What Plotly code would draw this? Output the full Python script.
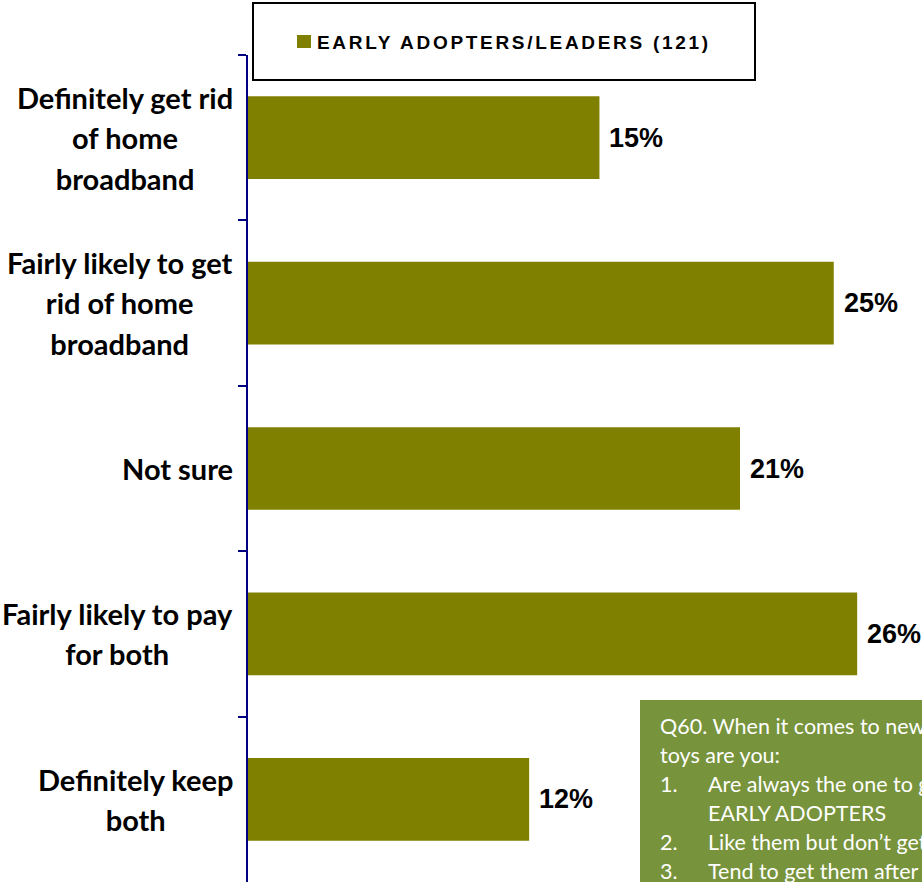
import plotly.graph_objects as go

# Survey answers for early adopters / leaders (n=121)
categories = [
    "Definitely get rid of home broadband",
    "Fairly likely to get rid of home broadband",
    "Not sure",
    "Fairly likely to pay for both",
    "Definitely keep both",
]
label_lines = [
    ["Definitely get rid", "of home", "broadband"],
    ["Fairly likely to get", "rid of home", "broadband"],
    ["Not sure"],
    ["Fairly likely to pay", "for both"],
    ["Definitely keep", "both"],
]
values = [15, 25, 21, 26, 12]
series_name = "EARLY ADOPTERS/LEADERS (121)"

note_header = ["Q60. When it comes to new gadgets and technology", "toys are you:"]
note_items = [
    ("1.", "Are always the one to get them first \u2013"),
    ("", "EARLY ADOPTERS"),
    ("2.", "Like them but don\u2019t get them first"),
    ("3.", "Tend to get them after others"),
]

W, H = 922, 882
ML, MR, MT, MB = 248, 0, 55, 0
PX_PER_UNIT = 23.43

BAR = "#808000"
AXIS = "#000080"
NOTE_BG = "#77933C"


def px_x(px):
    return (px - ML) / (W - ML - MR)


def px_y(py):
    return 1 - (py - MT) / (H - MT - MB)


fig = go.Figure(
    go.Bar(
        x=values,
        y=categories,
        orientation="h",
        width=0.5,
        marker=dict(color=BAR, line=dict(width=0)),
        name=series_name,
        showlegend=False,
        hoverinfo="x+y",
    )
)

annotations = []

# value labels at the end of each bar
for cat, v in zip(categories, values):
    annotations.append(dict(
        x=v, y=cat, xref="x", yref="y",
        text=f"{v}%", showarrow=False,
        xanchor="left", yanchor="middle", xshift=8,
        font=dict(family="Liberation Sans, Arial", size=27, color="black", weight="bold"),
    ))

# wrapped category labels, centred lines, right-aligned block
for cat, lines in zip(categories, label_lines):
    txt = "<br>".join(f"<span style='font-size:29px'>{ln}</span>" for ln in lines)
    annotations.append(dict(
        x=0, y=cat, xref="paper", yref="y",
        text=txt, showarrow=False, align="center",
        xanchor="right", yanchor="middle", xshift=-13,
        font=dict(family="Lato, Noto Sans", size=31, color="black", weight="bold"),
    ))

# legend text
annotations.append(dict(
    x=px_x(315), y=px_y(42), xref="paper", yref="paper",
    text=f"<span style='letter-spacing:2.7px'>{series_name}</span>",
    showarrow=False, xanchor="left", yanchor="middle",
    font=dict(family="Liberation Sans, Arial", size=19, color="black", weight="bold"),
))

# question note
note_font = dict(family="Lato, Noto Sans", size=21.5, color="white")
line_step = 28.9
y0 = 726
row = 0
for ln in note_header:
    annotations.append(dict(
        x=px_x(658), y=px_y(y0 + row * line_step), xref="paper", yref="paper",
        text=ln, showarrow=False, xanchor="left", yanchor="middle", font=note_font,
    ))
    row += 1
for num, ln in note_items:
    yy = px_y(y0 + row * line_step)
    if num:
        annotations.append(dict(
            x=px_x(658), y=yy, xref="paper", yref="paper",
            text=num, showarrow=False, xanchor="left", yanchor="middle", font=note_font,
        ))
    annotations.append(dict(
        x=px_x(706), y=yy, xref="paper", yref="paper",
        text=ln, showarrow=False, xanchor="left", yanchor="middle", font=note_font,
    ))
    row += 1

shapes = [
    # legend frame and swatch
    dict(type="rect", xref="paper", yref="paper",
         x0=px_x(253), x1=px_x(755), y0=px_y(80), y1=px_y(3),
         line=dict(color="black", width=2), fillcolor="white", layer="above"),
    dict(type="rect", xref="paper", yref="paper",
         x0=px_x(297), x1=px_x(311), y0=px_y(48), y1=px_y(35),
         line=dict(width=0), fillcolor=BAR, layer="above"),
    # note background
    dict(type="rect", xref="paper", yref="paper",
         x0=px_x(640), x1=px_x(1100), y0=px_y(1000), y1=px_y(700),
         line=dict(width=0), fillcolor=NOTE_BG, layer="above"),
]

fig.update_layout(
    width=W, height=H,
    margin=dict(l=ML, r=MR, t=MT, b=MB, pad=0),
    paper_bgcolor="white", plot_bgcolor="white",
    bargap=0.5,
    xaxis=dict(range=[0, (W - ML - MR) / PX_PER_UNIT], visible=False,
               showgrid=False, zeroline=False, fixedrange=True),
    yaxis=dict(
        type="category", categoryorder="array", categoryarray=categories,
        autorange="reversed", showticklabels=False,
        showline=True, linecolor=AXIS, linewidth=2,
        ticks="outside", tickson="boundaries", ticklen=8,
        tickcolor=AXIS, tickwidth=2, showgrid=False, zeroline=False,
    ),
    annotations=annotations,
    shapes=shapes,
    showlegend=False,
)

fig.write_html("out.html")
